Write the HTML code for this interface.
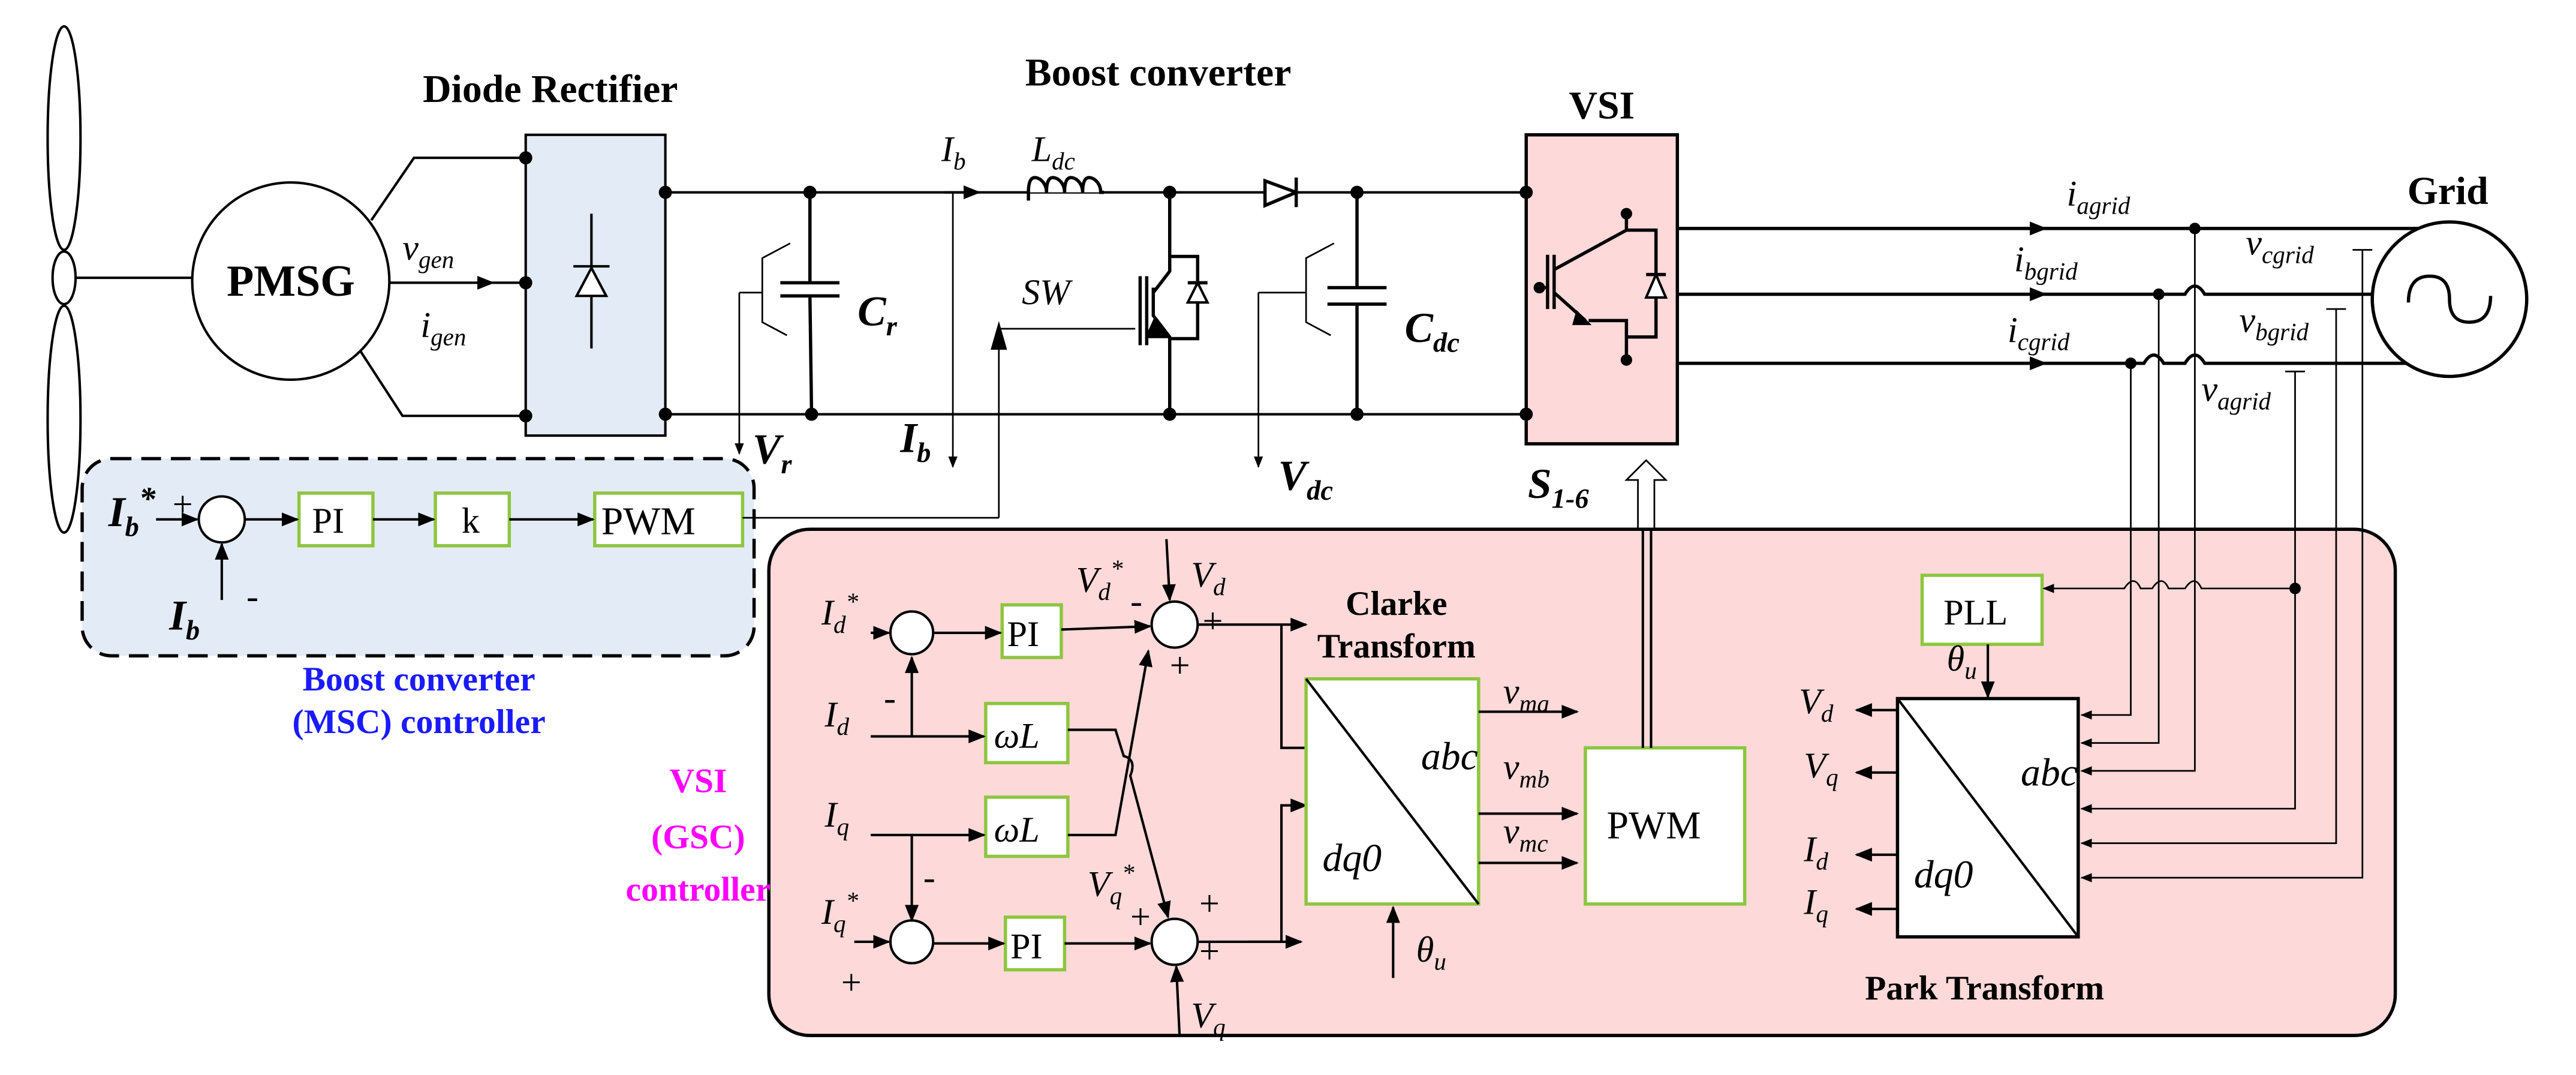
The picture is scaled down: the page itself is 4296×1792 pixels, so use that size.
<!DOCTYPE html>
<html><head><meta charset="utf-8"><style>html,body{margin:0;padding:0;background:#fff}svg{display:block}</style></head>
<body>
<svg xmlns="http://www.w3.org/2000/svg" width="4296" height="1792" viewBox="0 0 1568 654" font-family="'Liberation Serif', serif">
<defs>
<marker id="a" viewBox="0 0 10 10" refX="9" refY="5" markerWidth="7" markerHeight="7" orient="auto"><path d="M0,1 L10,5 L0,9 z" fill="#000"/></marker>
</defs>
<g stroke="#000" stroke-width="1.5" fill="none">
<ellipse cx="39" cy="84" rx="10" ry="68" fill="#fff"/>
<ellipse cx="39" cy="255" rx="10" ry="69" fill="#fff"/>
<ellipse cx="39" cy="169" rx="7" ry="16" fill="#fff"/>
<line x1="46" y1="169" x2="117" y2="169"/>
<circle cx="177" cy="171" r="60" fill="#fff"/>
<path d="M226,134 L252,96 L320,96"/>
<path d="M219,213 L245,253 L320,253"/>
<line x1="237" y1="172" x2="300" y2="172" marker-end="url(#a)"/>
<line x1="300" y1="172" x2="320" y2="172"/>
<rect x="320" y="82" width="85" height="183" fill="#e3ebf6"/>
<path d="M360,130 L360,212 M349,162 L371,162"/>
<path d="M360,163 L351,180 L369,180 z" fill="#fff"/>
<line x1="405" y1="117" x2="929" y2="117"/>
<line x1="405" y1="252" x2="929" y2="252"/>
<path d="M493,117 L493,172 M475,172 L511,172 M475,180 L511,180 M493,180 L494,252" stroke-width="2"/>
<path d="M481,148 L464,157 L464,196 L479,204" stroke-width="1"/>
<path d="M450,178 L464,178 M450,178 L450,276" stroke-width="1" marker-end="url(#a)"/>
<line x1="580" y1="117" x2="580" y2="252" stroke-width="1"/>
<line x1="580" y1="252" x2="580" y2="284" stroke-width="1" marker-end="url(#a)"/>
<line x1="575" y1="117" x2="596" y2="117" marker-end="url(#a)"/>
<path d="M626,117 l0,5 M626,117 q0,-12 7,-8 q4,3 4,8 q0,-12 7,-8 q4,3 4,8 q0,-12 7,-8 q4,3 4,8 q0,-12 7,-8 q4,3 4,8 L672,117" fill="#fff" stroke-width="2"/>
<path d="M712,117 L712,165 L702,178 M702,175 L702,192 L712,205 L712,252 M698,168 L698,210 M694,168 L694,210" stroke-width="2"/>
<path d="M712,156 L729,156 L729,206 L712,206 M723,172 L735,172" stroke-width="2"/>
<path d="M723,184 L735,184 L729,172 z" fill="#fff" stroke-width="1.5"/>
<path d="M698,205 L712,205 L703,194 z" fill="#000"/>
<path d="M608,315 L608,200 L691,200" stroke-width="1"/>
<path d="M604,212 L608,198 L612,212 z" fill="#000"/>
<path d="M770,110 L770,125 L789,117 z M789,108 L789,126" fill="#fff" stroke-width="2"/>
<path d="M826,117 L826,175 M808,175 L844,175 M808,185 L844,185 M826,185 L826,252" stroke-width="2"/>
<path d="M812,148 L795,157 L795,196 L810,204" stroke-width="1"/>
<path d="M766,178 L795,178 M766,178 L766,284" stroke-width="1" marker-end="url(#a)"/>
<rect x="929" y="82" width="92" height="188" fill="#fdd9d9" stroke-width="2"/>
<path d="M946,155 L946,188 M942,155 L942,188 M946,164 L990,140 L990,130 M946,178 L965,195 M990,205 L990,219 M990,140 L1008,140 L1008,205 L990,205 L990,195 L967,195 M937,175 L942,175 M1002,167 L1014,167" stroke-width="2"/>
<path d="M1002,181 L1014,181 L1008,167 z" fill="#fff"/>
<path d="M960,190 L967,197 L958,197 z" fill="#000"/>
<path d="M997,292 L997,322 L1007,322 L1007,292 L1014,292 L1002,280 L990,292 z" fill="#fff" stroke-width="1"/>
<line x1="1021" y1="139" x2="1478" y2="139" stroke-width="2"/>
<path d="M1021,179 L1330,179 q6,-10 12,0 L1444,179" stroke-width="2"/>
<path d="M1021,221 L1305,221 q6,-10 12,0 L1330,221 q6,-10 12,0 L1466,221" stroke-width="2"/>
<line x1="1215" y1="139" x2="1245" y2="139" marker-end="url(#a)"/>
<line x1="1215" y1="179" x2="1245" y2="179" marker-end="url(#a)"/>
<line x1="1215" y1="221" x2="1245" y2="221" marker-end="url(#a)"/>
<circle cx="1491" cy="182" r="47" fill="#fff" stroke-width="2"/>
<path d="M1466,184 q0,-16 13,-16 q12,0 12,14 q0,14 12,14 q13,0 13,-16" stroke-width="2"/>
<rect x="50" y="279" width="409" height="120" rx="18" fill="#e3ebf6" stroke-dasharray="12,6" stroke-width="2"/>
<circle cx="135" cy="316" r="14" fill="#fff"/>
<rect x="182" y="300" width="45" height="32" stroke="#8dc63f" stroke-width="2" fill="#fff"/>
<rect x="265" y="300" width="45" height="32" stroke="#8dc63f" stroke-width="2" fill="#fff"/>
<rect x="362" y="300" width="90" height="32" stroke="#8dc63f" stroke-width="2" fill="#fff"/>
<line x1="95" y1="316" x2="120" y2="316" marker-end="url(#a)"/>
<line x1="135" y1="365" x2="135" y2="331" marker-end="url(#a)"/>
<line x1="149" y1="316" x2="181" y2="316" marker-end="url(#a)"/>
<line x1="227" y1="316" x2="264" y2="316" marker-end="url(#a)"/>
<line x1="310" y1="316" x2="361" y2="316" marker-end="url(#a)"/>
<line x1="452" y1="315" x2="608" y2="315" stroke-width="1"/>
<rect x="468" y="322" width="990" height="308" rx="25" fill="#fdd9d9" stroke-width="2"/>
<circle cx="555" cy="385" r="13" fill="#fff"/>
<circle cx="715" cy="380" r="14" fill="#fff"/>
<circle cx="555" cy="573" r="13" fill="#fff"/>
<circle cx="715" cy="573" r="14" fill="#fff"/>
<rect x="610" y="368" width="36" height="32" stroke="#8dc63f" stroke-width="2" fill="#fff"/>
<rect x="612" y="558" width="36" height="32" stroke="#8dc63f" stroke-width="2" fill="#fff"/>
<rect x="600" y="428" width="50" height="36" stroke="#8dc63f" stroke-width="2" fill="#fff"/>
<rect x="600" y="485" width="50" height="36" stroke="#8dc63f" stroke-width="2" fill="#fff"/>
<line x1="530" y1="385" x2="541" y2="385" marker-end="url(#a)"/>
<line x1="568" y1="385" x2="609" y2="385" marker-end="url(#a)"/>
<line x1="646" y1="383" x2="700" y2="381" marker-end="url(#a)"/>
<line x1="710" y1="328" x2="712" y2="365" marker-end="url(#a)"/>
<line x1="729" y1="380" x2="795" y2="380" marker-end="url(#a)"/>
<path d="M530,448 L555,448 L555,400" marker-end="url(#a)"/>
<line x1="555" y1="448" x2="599" y2="448" marker-end="url(#a)"/>
<path d="M530,508 L555,508 L555,560" marker-end="url(#a)"/>
<line x1="555" y1="508" x2="599" y2="508" marker-end="url(#a)"/>
<line x1="520" y1="573" x2="541" y2="573" marker-end="url(#a)"/>
<line x1="568" y1="574" x2="611" y2="574" marker-end="url(#a)"/>
<line x1="648" y1="574" x2="700" y2="574" marker-end="url(#a)"/>
<path d="M650,508 L679,508 L699,396" marker-end="url(#a)"/>
<path d="M650,444 L679,444 L684,460 q8,2 4,12 L711,558" marker-end="url(#a)"/>
<line x1="718" y1="630" x2="716" y2="588" marker-end="url(#a)"/>
<path d="M729,573 L780,573 L780,490 L795,490" marker-end="url(#a)"/>
<line x1="760" y1="573" x2="792" y2="573" marker-end="url(#a)"/>
<path d="M780,380 L780,455 L795,455" />
<rect x="795" y="413" width="105" height="137" stroke="#8dc63f" stroke-width="2" fill="#fff"/>
<line x1="795" y1="413" x2="900" y2="550"/>
<line x1="848" y1="595" x2="848" y2="552" marker-end="url(#a)"/>
<line x1="900" y1="433" x2="960" y2="433" marker-end="url(#a)"/>
<line x1="900" y1="495" x2="960" y2="495" marker-end="url(#a)"/>
<line x1="900" y1="525" x2="960" y2="525" marker-end="url(#a)"/>
<rect x="965" y="455" width="97" height="95" stroke="#8dc63f" stroke-width="2" fill="#fff"/>
<line x1="1000" y1="455" x2="1000" y2="322"/>
<line x1="1005" y1="455" x2="1005" y2="322"/>
<rect x="1170" y="350" width="73" height="42" stroke="#8dc63f" stroke-width="2" fill="#fff"/>
<line x1="1210" y1="392" x2="1210" y2="424" marker-end="url(#a)"/>
<rect x="1155" y="425" width="110" height="145" fill="#fff" stroke-width="2"/>
<line x1="1155" y1="425" x2="1265" y2="570"/>
<line x1="1155" y1="432" x2="1130" y2="432" marker-end="url(#a)"/>
<line x1="1155" y1="470" x2="1130" y2="470" marker-end="url(#a)"/>
<line x1="1155" y1="520" x2="1130" y2="520" marker-end="url(#a)"/>
<line x1="1155" y1="553" x2="1130" y2="553" marker-end="url(#a)"/>
<g stroke-width="1">
<path d="M1297,221 L1297,435 L1267,435" marker-end="url(#a)"/>
<path d="M1314,179 L1314,452 L1267,452" marker-end="url(#a)"/>
<path d="M1336,139 L1336,469 L1267,469" marker-end="url(#a)"/>
<path d="M1397,226 L1397,492 L1267,492" marker-end="url(#a)"/>
<path d="M1422,188 L1422,513 L1267,513" marker-end="url(#a)"/>
<path d="M1438,152 L1438,534 L1267,534" marker-end="url(#a)"/>
<path d="M1432,152 L1444,152 M1416,188 L1428,188 M1391,226 L1403,226"/>
<path d="M1397,358 L1340,358 q-4,-9 -10,0 L1320,358 q-4,-9 -10,0 L1303,358 q-4,-9 -10,0 L1244,358" marker-end="url(#a)"/>
</g>
</g>
<g fill="#000">
<circle cx="320" cy="96" r="4"/><circle cx="320" cy="172" r="4"/><circle cx="320" cy="253" r="4"/><circle cx="405" cy="117" r="4"/><circle cx="405" cy="252" r="4"/>
<circle cx="493" cy="117" r="4"/><circle cx="494" cy="252" r="4"/><circle cx="712" cy="117" r="4"/><circle cx="712" cy="252" r="4"/>
<circle cx="826" cy="117" r="4"/><circle cx="826" cy="252" r="4"/><circle cx="929" cy="117" r="4"/><circle cx="929" cy="252" r="4"/>
<circle cx="1336" cy="139" r="3.5"/><circle cx="1314" cy="179" r="3.5"/><circle cx="1297" cy="221" r="3.5"/><circle cx="1397" cy="358" r="3.5"/>
<circle cx="990" cy="130" r="3.5"/><circle cx="990" cy="219" r="3.5"/><circle cx="937" cy="175" r="3.5"/>
</g>
<g font-size="22" fill="#000">
<text x="335" y="62" font-weight="bold" text-anchor="middle" font-size="24">Diode Rectifier</text>
<text x="705" y="52" font-weight="bold" text-anchor="middle" font-size="24">Boost converter</text>
<text x="975" y="72" font-weight="bold" text-anchor="middle" font-size="24">VSI</text>
<text x="1490" y="124" font-weight="bold" text-anchor="middle" font-size="24">Grid</text>
<text x="177" y="180" font-weight="bold" text-anchor="middle" font-size="27">PMSG</text>
<g font-style="italic">
<text x="245" y="158">v<tspan font-size="15" dy="5">gen</tspan></text>
<text x="256" y="205">i<tspan font-size="15" dy="5">gen</tspan></text>
<text x="573" y="98">I<tspan font-size="15" dy="5">b</tspan></text>
<text x="628" y="98">L<tspan font-size="15" dy="5">dc</tspan></text>
<text x="622" y="185">SW</text>
<text x="1258" y="125">i<tspan font-size="15" dy="5">agrid</tspan></text>
<text x="1226" y="165">i<tspan font-size="15" dy="5">bgrid</tspan></text>
<text x="1222" y="208">i<tspan font-size="15" dy="5">cgrid</tspan></text>
<text x="1367" y="155">v<tspan font-size="15" dy="5">cgrid</tspan></text>
<text x="1363" y="202">v<tspan font-size="15" dy="5">bgrid</tspan></text>
<text x="1340" y="244">v<tspan font-size="15" dy="5">agrid</tspan></text>
<text x="500" y="380">I<tspan font-size="15" dy="5">d</tspan><tspan font-size="15" dy="-14">*</tspan></text>
<text x="502" y="442">I<tspan font-size="15" dy="5">d</tspan></text>
<text x="502" y="503">I<tspan font-size="15" dy="5">q</tspan></text>
<text x="500" y="562">I<tspan font-size="15" dy="5">q</tspan><tspan font-size="15" dy="-14">*</tspan></text>
<text x="655" y="360">V<tspan font-size="15" dy="5">d</tspan><tspan font-size="15" dy="-14">*</tspan></text>
<text x="725" y="357">V<tspan font-size="15" dy="5">d</tspan></text>
<text x="662" y="545">V<tspan font-size="15" dy="5">q</tspan><tspan font-size="15" dy="-14">*</tspan></text>
<text x="725" y="625">V<tspan font-size="15" dy="5">q</tspan></text>
<text x="605" y="455">ωL</text>
<text x="605" y="512">ωL</text>
<text x="865" y="468" font-size="24">abc</text>
<text x="805" y="530" font-size="24">dq0</text>
<text x="862" y="585">θ<tspan font-size="15" dy="5">u</tspan></text>
<text x="915" y="428">v<tspan font-size="15" dy="5">ma</tspan></text>
<text x="915" y="474">v<tspan font-size="15" dy="5">mb</tspan></text>
<text x="915" y="513">v<tspan font-size="15" dy="5">mc</tspan></text>
<text x="1185" y="408">θ<tspan font-size="15" dy="5">u</tspan></text>
<text x="1230" y="478" font-size="24">abc</text>
<text x="1165" y="540" font-size="24">dq0</text>
<text x="1095" y="434">V<tspan font-size="15" dy="5">d</tspan></text>
<text x="1098" y="473">V<tspan font-size="15" dy="5">q</tspan></text>
<text x="1098" y="524">I<tspan font-size="15" dy="5">d</tspan></text>
<text x="1098" y="556">I<tspan font-size="15" dy="5">q</tspan></text>
</g>
<g font-style="italic" font-weight="bold" font-size="26">
<text x="522" y="198">C<tspan font-size="17" dy="6">r</tspan></text>
<text x="855" y="208">C<tspan font-size="17" dy="6">dc</tspan></text>
<text x="458" y="282">V<tspan font-size="17" dy="6">r</tspan></text>
<text x="548" y="275">I<tspan font-size="17" dy="6">b</tspan></text>
<text x="778" y="298">V<tspan font-size="17" dy="6">dc</tspan></text>
<text x="930" y="303">S<tspan font-size="17" dy="6">1-6</tspan></text>
<text x="66" y="320">I<tspan font-size="17" dy="6">b</tspan><tspan font-size="20" dy="-16">*</tspan></text>
<text x="103" y="383">I<tspan font-size="17" dy="6">b</tspan></text>
</g>
<text x="105" y="314">+</text><text x="150" y="370">-</text>
<text x="190" y="324">PI</text><text x="281" y="324">k</text><text x="366" y="325" font-size="24">PWM</text>
<text x="613" y="393">PI</text><text x="615" y="583">PI</text>
<text x="978" y="510" font-size="24">PWM</text>
<text x="1183" y="380" font-size="22">PLL</text>
<text x="688" y="373">-</text><text x="732" y="385">+</text><text x="712" y="412">+</text>
<text x="538" y="432">-</text><text x="562" y="541">-</text><text x="512" y="605">+</text>
<text x="730" y="557">+</text><text x="730" y="586">+</text><text x="688" y="565">+</text>
<text x="850" y="374" font-weight="bold" text-anchor="middle" font-size="21">Clarke</text>
<text x="850" y="400" font-weight="bold" text-anchor="middle" font-size="21">Transform</text>
<text x="1208" y="608" font-weight="bold" text-anchor="middle" font-size="21">Park Transform</text>
<text x="255" y="420" font-weight="bold" text-anchor="middle" fill="#1a1aff" font-size="21">Boost converter</text>
<text x="255" y="446" font-weight="bold" text-anchor="middle" fill="#1a1aff" font-size="21">(MSC) controller</text>
<text x="425" y="482" font-weight="bold" text-anchor="middle" fill="#ff00ff" font-size="21">VSI</text>
<text x="425" y="516" font-weight="bold" text-anchor="middle" fill="#ff00ff" font-size="21">(GSC)</text>
<text x="425" y="548" font-weight="bold" text-anchor="middle" fill="#ff00ff" font-size="21">controller</text>
</g>
</svg>
</body></html>
